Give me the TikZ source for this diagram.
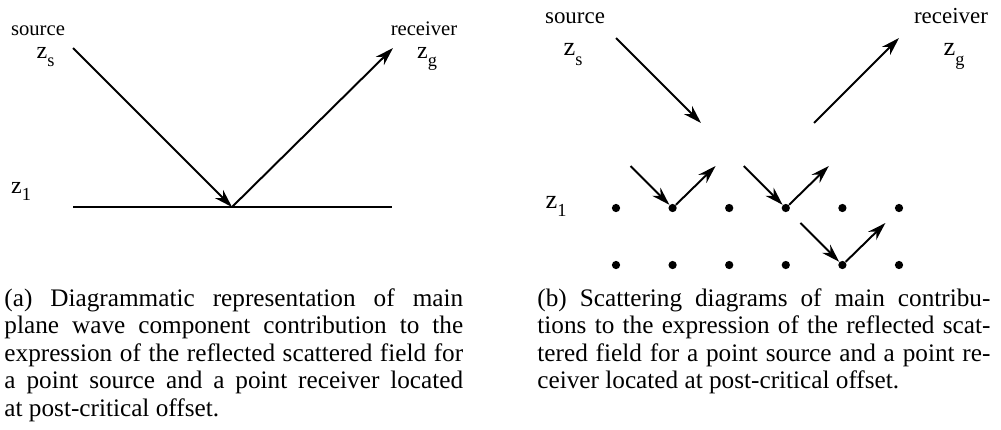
\documentclass[tikz,border=0pt]{standalone}
\usepackage{fontspec}
\setmainfont{Liberation Serif}
\usetikzlibrary{arrows.meta}
\newcommand{\zlev}[2]{z\raisebox{-#1}{\fontsize{8}{9}\selectfont #2}}

\begin{document}
\begin{tikzpicture}[x=0.436pt, y=-0.436pt,
  ray/.style={line width=0.85pt, -{Stealth[length=8pt, width=5pt, inset=2.6pt]}},
  dot/.style={circle, fill, inner sep=0pt, minimum size=3.6pt},
  labA/.style={font=\fontsize{9}{10}\selectfont, anchor=base, inner sep=0pt},
  labB/.style={font=\fontsize{10}{12}\selectfont, anchor=base, inner sep=0pt},
  zA/.style={font=\fontsize{10.5}{12}\selectfont, anchor=base, inner sep=0pt},
  zB/.style={font=\fontsize{11.5}{12}\selectfont, anchor=base, inner sep=0pt},
  caption/.style={anchor=north west, align=justify, inner sep=0pt, font=\fontsize{11}{12}\selectfont}]
  \useasboundingbox (0,0) rectangle (1001,429);
  \node[labA] (srcA) at (38,35) {source};
  \node[zA] (zsA) at (45.5,58) {\zlev{3.8pt}{s}};
  \node[labA] (recA) at (424,35) {receiver};
  \node[zA] (zgA) at (427,58) {\zlev{3.8pt}{g}};
  \node[zA] (z1A) at (21,193) {\zlev{3.2pt}{1}};
  \coordinate (inA) at (73,48);
  \coordinate (hitA) at (232,207);
  \coordinate (outA) at (393,48);
  \coordinate (leftA) at (73,207);
  \coordinate (rightA) at (392,207);
  \draw[line width=1pt] (leftA) -- (rightA);
  \draw[ray] (inA) -- (hitA);
  \draw[ray] (hitA) -- (outA);
  \node[labB] (srcB) at (575,23) {source};
  \node[zB] (zsB) at (573,55) {\zlev{4.6pt}{s}};
  \node[labB] (recB) at (951,23) {receiver};
  \node[zB] (zgB) at (954,55) {\zlev{4.6pt}{g}};
  \node[zB] (z1B) at (556,208) {\zlev{3.5pt}{1}};
  \coordinate (inB) at (616,38);
  \coordinate (endB) at (701,123);
  \coordinate (startB) at (814,123);
  \coordinate (outB) at (899,38);
  \draw[ray] (inB) -- (endB);
  \draw[ray] (startB) -- (outB);
  \foreach \i in {0,...,5} {
    \node[dot] (top\i) at (616+56.6*\i,208) {};
    \node[dot] (bot\i) at (616+56.6*\i,265) {};
  }
  \foreach \d in {top1, top3, bot4} {
    \coordinate (\d-in) at ([shift={(-42,-42)}]\d.center);
    \coordinate (\d-out) at ([shift={(43,-42)}]\d.center);
    \draw[ray] (\d-in) -- (\d);
    \draw[ray] (\d) -- (\d-out);
  }
  \node[caption, text width=200pt] (capA) at (4,288) {(a) Diagrammatic representation of main\linebreak
    plane wave component contribution to the\linebreak
    expression of the reflected scattered field for\linebreak
    a point source and a point receiver located\linebreak
    at post-critical offset.};
  \node[caption, text width=197.5pt] (capB) at (537,288) {(b) Scattering diagrams of main contribu-\linebreak
    tions to the expression of the reflected scat-\linebreak
    tered field for a point source and a point re-\linebreak
    ceiver located at post-critical offset.};
\end{tikzpicture}
\end{document}
